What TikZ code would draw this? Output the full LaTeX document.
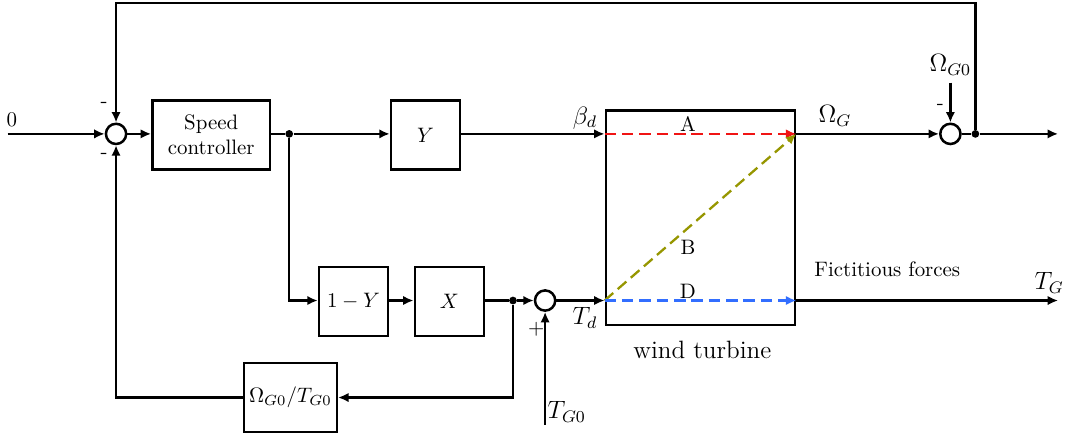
\documentclass[tikz,border=0pt]{standalone}
\usepackage{amsmath}
\usetikzlibrary{arrows.meta}

\definecolor{windred}{RGB}{240,20,20}
\definecolor{windolive}{RGB}{150,150,0}
\definecolor{windblue}{RGB}{50,110,255}

\begin{document}
\begin{tikzpicture}[
        block/.style={draw, line width=1.2pt, minimum height=1.16cm, inner sep=2pt},
        sumnode/.style={draw, line width=1.2pt, circle, minimum size=0.34cm, inner sep=0pt},
        dotnode/.style={fill, circle, minimum size=0.13cm, inner sep=0pt},
        wire/.style={line width=1.1pt},
        sig/.style={wire, -{Latex[length=5pt,width=4.5pt]}},
        flow/.style={sig, dash pattern=on 5.5pt off 2.8pt},
        mlabel/.style={font=\fontsize{11.5}{13}\selectfont}
    ]
        \useasboundingbox (0,0) rectangle (17.98,7.34);

        % Draw blocks
        \node[sumnode] (sum1) at (1.95,5.09) {};
        \node[block, minimum width=1.98cm, align=center] (ctrl) at (3.55,5.07) {Speed\\controller};
        \node[dotnode] (split1) at (4.86,5.09) {};
        \node[block, minimum width=1.16cm] (ygain) at (7.15,5.07) {$Y$};
        \node[block, minimum width=1.16cm] (oneminus) at (5.94,2.27) {$1-Y$};
        \node[block, minimum width=1.16cm] (xgain) at (7.55,2.27) {$X$};
        \node[dotnode] (split2) at (8.62,2.29) {};
        \node[sumnode] (sum2) at (9.16,2.29) {};
        \node[block, minimum width=1.56cm] (ratio) at (4.88,0.66) {$\Omega_{G0}/T_{G0}$};
        \node[draw, line width=1.2pt, minimum width=3.18cm, minimum height=3.6cm] (turbine) at (11.77,3.68) {};
        \node[sumnode] (sum3) at (15.97,5.09) {};
        \node[dotnode] (split3) at (16.39,5.09) {};

        % Mark free ends
        \coordinate (in) at (0.13,5.09);
        \coordinate (omegaout) at (17.78,5.09);
        \coordinate (tgout) at (17.78,2.29);
        \coordinate (tgin) at (9.16,0.20);
        \coordinate (fbtop) at (16.39,7.29);
        \coordinate (betain) at (turbine.west |- sum1);
        \coordinate (tdin) at (turbine.west |- sum2);
        \coordinate (omgout) at (turbine.east |- sum1);
        \coordinate (tgturb) at (turbine.east |- sum2);
        \node[mlabel] (omg0) at (15.97,6.25) {$\Omega_{G0}$};

        % Draw forward path
        \draw[sig] (in) -- (sum1);
        \draw[sig] (sum1) -- (ctrl.west |- sum1);
        \draw[wire] (ctrl.east |- sum1) -- (split1);
        \draw[sig] (split1) -- (ygain.west |- sum1);
        \draw[sig] (ygain.east |- sum1) -- (betain);
        \draw[sig] (split1) |- (oneminus.west |- sum2);
        \draw[sig] (oneminus.east |- sum2) -- (xgain.west |- sum2);
        \draw[wire] (xgain.east |- sum2) -- (split2);
        \draw[sig] (split2) -- (sum2);
        \draw[sig] (sum2) -- (tdin);
        \draw[sig] (tgin) -- (sum2);

        % Draw paths inside the turbine
        \draw[flow, windred] (betain) -- (omgout);
        \draw[flow, windolive] (tdin) -- (omgout);
        \draw[flow, windblue] (tdin) -- (tgturb);

        % Draw outputs
        \draw[sig] (omgout) -- (sum3);
        \draw[sig] (omg0) -- (sum3);
        \draw[wire] (sum3) -- (split3);
        \draw[sig] (split3) -- (omegaout);
        \draw[sig] (tgturb) -- (tgout);

        % Draw feedback loops
        \draw[sig] (split3) -- (fbtop) -| (sum1);
        \draw[sig] (split2) |- (ratio);
        \draw[sig] (ratio) -| (sum1);

        % Labels
        \node (zerolab) at (0.20,5.33) {$0$};
        \node (minusa) at (1.75,5.58) {-};
        \node (minusb) at (1.75,4.72) {-};
        \node (minusc) at (15.80,5.55) {-};
        \node (pluslab) at (9.01,1.80) {$+$};
        \node[mlabel] (betalab) at (9.83,5.36) {$\beta_d$};
        \node[mlabel] (tdlab) at (9.83,2.00) {$T_d$};
        \node (alab) at (11.56,5.26) {A};
        \node (blab) at (11.56,3.19) {B};
        \node (dlab) at (11.56,2.44) {D};
        \node[mlabel] (omglab) at (14.03,5.39) {$\Omega_G$};
        \node (fictlab) at (14.91,2.82) {Fictitious forces};
        \node[mlabel] (tglab) at (17.63,2.59) {$T_G$};
        \node[mlabel, anchor=south west, inner sep=1pt] (tg0lab) at (tgin) {$T_{G0}$};
        \node (windlab) at (11.80,1.46) {\large wind turbine};
    \end{tikzpicture}
\end{document}
